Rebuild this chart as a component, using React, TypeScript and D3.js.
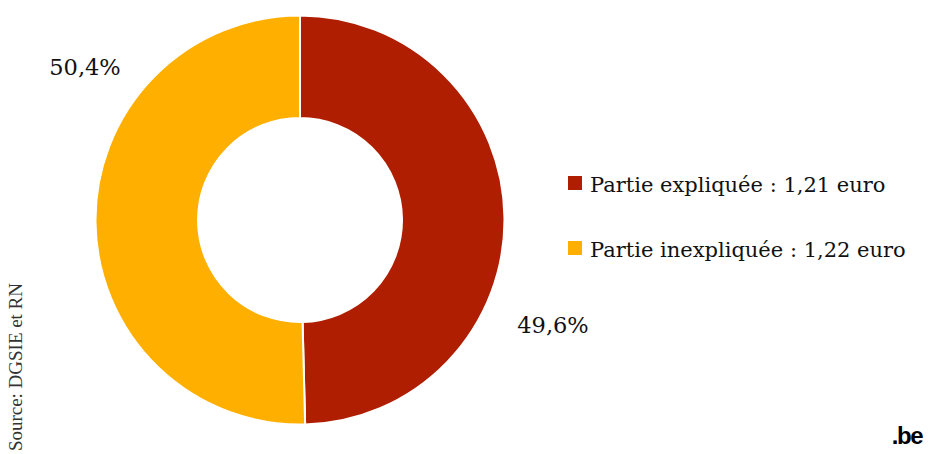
import React from "react";
import * as d3 from "d3";

const categories = ["Partie expliquée", "Partie inexpliquée"];
const shares = [49.6, 50.4];
const euroValues = ["1,21", "1,22"];
const shareLabels = ["49,6%", "50,4%"];
const colors = ["#AF1E00", "#FFAF00"];

const W = 933;
const H = 454;
const cx = 300;
const cy = 220;
const outerR = 204.5;
const innerR = 102;
const font = "DejaVu Serif";

export default function App() {
  const pie = d3.pie<number>().sort(null).value((d) => d)(shares);
  const arc = d3.arc<d3.PieArcDatum<number>>().innerRadius(innerR).outerRadius(outerR);
  const legendY = d3.scalePoint<string>().domain(categories).range([184, 249]);
  const labelPos = [
    { x: 553, y: 333 },
    { x: 85, y: 75 },
  ];
  return (
    <svg width={W} height={H} style={{ position: "absolute", left: 0, top: 0 }}>
      <g transform={`translate(${cx},${cy})`}>
        {pie.map((p, i) => (
          <path key={i} d={arc(p) || ""} fill={colors[i]} stroke="#fff" strokeWidth={2} />
        ))}
      </g>
      {shareLabels.map((t, i) => (
        <text key={t} x={labelPos[i].x} y={labelPos[i].y} textAnchor="middle" fontFamily={font} fontSize={22.5} fill="#111">
          {t}
        </text>
      ))}
      {categories.map((c, i) => (
        <g key={c} transform={`translate(0,${legendY(c)})`}>
          <rect x={568} y={-8} width={14} height={14} fill={colors[i]} />
          <text x={590} y={8} fontFamily={font} fontSize={21} fill="#111">
            {`${c} : ${euroValues[i]} euro`}
          </text>
        </g>
      ))}
      <text transform="translate(22,451) rotate(-90)" fontFamily="Liberation Serif" fontSize={19} fill="#333" textLength={168} lengthAdjust="spacing">
        Source: DGSIE et RN
      </text>
      <text x={922} y={444} textAnchor="end" fontFamily="Liberation Sans" fontWeight="bold" fontSize={24} letterSpacing={-1.5} fill="#000">
        .be
      </text>
    </svg>
  );
}
